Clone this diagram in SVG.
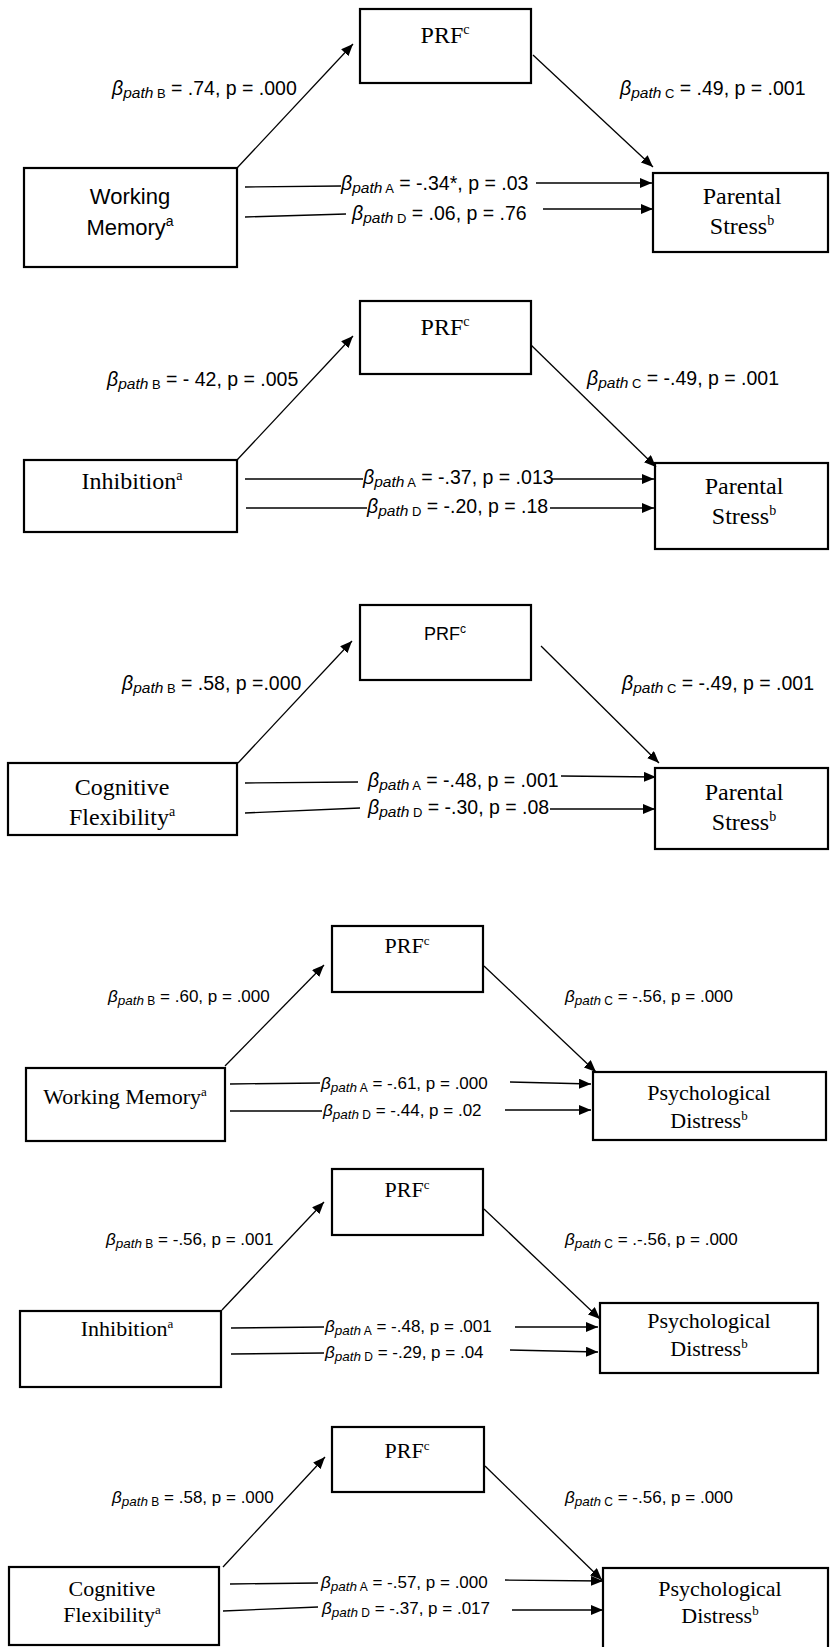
<svg xmlns="http://www.w3.org/2000/svg" width="830" height="1647" viewBox="0 0 830 1647">
<defs>
<marker id="ah" viewBox="0 0 12 10" refX="12" refY="5" markerWidth="12" markerHeight="10" markerUnits="userSpaceOnUse" orient="auto"><path d="M0,0 L12,5 L0,10 z" fill="#000"/></marker>
<style>
.box{fill:#fff;stroke:#000;stroke-width:2.2}
.ln{stroke:#000;stroke-width:1.3;fill:none}
.ar{stroke:#000;stroke-width:1.3;fill:none;marker-end:url(#ah)}
.serif{font-family:"Liberation Serif","Times New Roman",serif;fill:#000;text-anchor:middle}
.sans{font-family:"Liberation Sans",Arial,sans-serif;fill:#000;text-anchor:middle}
.lbl{font-family:"Liberation Sans",Arial,sans-serif;font-size:19.5px;fill:#000}
.lbl2{font-family:"Liberation Sans",Arial,sans-serif;font-size:17px;fill:#000}
.g{font-style:italic}
.lbl .s{font-style:italic;font-size:15.5px}
.lbl .c{font-size:13px}
.lbl2 .s{font-style:italic;font-size:13.5px}
.lbl2 .c{font-size:12px}
.f24{font-size:24px}
.f22{font-size:22px}
.f18{font-size:18px}
.sup{font-size:14px}
</style>
</defs>

<!-- Panel 1 -->
<g id="p1-prf"><rect class="box" x="360" y="9" width="171" height="74"/><text class="serif f24" x="445" y="43">PRF<tspan class="sup" dy="-9">c</tspan></text></g>
<g id="p1-wm"><rect class="box" x="24" y="168" width="213" height="99"/><text class="sans f22" x="130" y="204">Working</text><text class="sans f22" x="130" y="235">Memory<tspan class="sup" dy="-9">a</tspan></text></g>
<g id="p1-ps"><rect class="box" x="653" y="173" width="175" height="79"/><text class="serif f24" x="742" y="204">Parental</text><text class="serif f24" x="742" y="234">Stress<tspan class="sup" dy="-9">b</tspan></text></g>

<!-- Panel 2 -->
<g id="p2-prf"><rect class="box" x="360" y="301" width="171" height="73"/><text class="serif f24" x="445" y="335">PRF<tspan class="sup" dy="-9">c</tspan></text></g>
<g id="p2-inh"><rect class="box" x="24" y="460" width="213" height="72"/><text class="serif f24" x="132" y="489">Inhibition<tspan class="sup" dy="-9">a</tspan></text></g>
<g id="p2-ps"><rect class="box" x="655" y="463" width="173" height="86"/><text class="serif f24" x="744" y="494">Parental</text><text class="serif f24" x="744" y="524">Stress<tspan class="sup" dy="-9">b</tspan></text></g>

<!-- Panel 3 -->
<g id="p3-prf"><rect class="box" x="360" y="605" width="171" height="75"/><text class="sans f18" x="445" y="640">PRF<tspan class="sup" dy="-7" style="font-size:12px">c</tspan></text></g>
<g id="p3-cf"><rect class="box" x="8" y="763" width="229" height="72"/><text class="serif f24" x="122" y="795">Cognitive</text><text class="serif f24" x="122" y="825">Flexibility<tspan class="sup" dy="-9">a</tspan></text></g>
<g id="p3-ps"><rect class="box" x="655" y="768" width="173" height="81"/><text class="serif f24" x="744" y="800">Parental</text><text class="serif f24" x="744" y="830">Stress<tspan class="sup" dy="-9">b</tspan></text></g>

<!-- Panel 4 -->
<g id="p4-prf"><rect class="box" x="332" y="926" width="151" height="66"/><text class="serif f22" x="407" y="953">PRF<tspan class="sup" dy="-8" style="font-size:13px">c</tspan></text></g>
<g id="p4-wm"><rect class="box" x="26" y="1068" width="199" height="73"/><text class="serif f22" x="125" y="1104">Working Memory<tspan class="sup" dy="-8" style="font-size:13px">a</tspan></text></g>
<g id="p4-pd"><rect class="box" x="593" y="1072" width="233" height="68"/><text class="serif f22" x="709" y="1100">Psychological</text><text class="serif f22" x="709" y="1128">Distress<tspan class="sup" dy="-8" style="font-size:13px">b</tspan></text></g>

<!-- Panel 5 -->
<g id="p5-prf"><rect class="box" x="332" y="1169" width="151" height="66"/><text class="serif f22" x="407" y="1197">PRF<tspan class="sup" dy="-8" style="font-size:13px">c</tspan></text></g>
<g id="p5-inh"><rect class="box" x="20" y="1311" width="201" height="76"/><text class="serif f22" x="127" y="1336">Inhibition<tspan class="sup" dy="-8" style="font-size:13px">a</tspan></text></g>
<g id="p5-pd"><rect class="box" x="600" y="1303" width="218" height="70"/><text class="serif f22" x="709" y="1328">Psychological</text><text class="serif f22" x="709" y="1356">Distress<tspan class="sup" dy="-8" style="font-size:13px">b</tspan></text></g>

<!-- Panel 6 -->
<g id="p6-prf"><rect class="box" x="332" y="1427" width="152" height="65"/><text class="serif f22" x="407" y="1458">PRF<tspan class="sup" dy="-8" style="font-size:13px">c</tspan></text></g>
<g id="p6-cf"><rect class="box" x="9" y="1567" width="210" height="78"/><text class="serif f22" x="112" y="1596">Cognitive</text><text class="serif f22" x="112" y="1622">Flexibility<tspan class="sup" dy="-8" style="font-size:13px">a</tspan></text></g>
<g id="p6-pd"><rect class="box" x="603" y="1568" width="225" height="90"/><text class="serif f22" x="720" y="1596">Psychological</text><text class="serif f22" x="720" y="1623">Distress<tspan class="sup" dy="-8" style="font-size:13px">b</tspan></text></g>

<g id="connectors">
<!-- Panel 1 -->
<line class="ar" x1="237" y1="168" x2="353" y2="44"/>
<line class="ar" x1="533" y1="55" x2="653" y2="167"/>
<line class="ln" x1="245" y1="187" x2="341" y2="186"/>
<line class="ar" x1="536" y1="183" x2="652" y2="183"/>
<line class="ln" x1="245" y1="217" x2="346" y2="214"/>
<line class="ar" x1="543" y1="209" x2="653" y2="209"/>
<!-- Panel 2 -->
<line class="ar" x1="237" y1="460" x2="353" y2="336"/>
<line class="ar" x1="531" y1="345" x2="656" y2="467"/>
<line class="ln" x1="245" y1="479" x2="363" y2="479"/>
<line class="ar" x1="552" y1="479" x2="654" y2="479"/>
<line class="ln" x1="246" y1="508" x2="367" y2="508"/>
<line class="ar" x1="550" y1="508" x2="654" y2="508"/>
<!-- Panel 3 -->
<line class="ar" x1="238" y1="763" x2="352" y2="641"/>
<line class="ar" x1="541" y1="646" x2="659" y2="763"/>
<line class="ln" x1="245" y1="783" x2="358" y2="782"/>
<line class="ar" x1="561" y1="776" x2="656" y2="777"/>
<line class="ln" x1="245" y1="813" x2="360" y2="808"/>
<line class="ar" x1="550" y1="809" x2="655" y2="809"/>
<!-- Panel 4 -->
<line class="ar" x1="225" y1="1066" x2="324" y2="965"/>
<line class="ar" x1="484" y1="966" x2="596" y2="1072"/>
<line class="ln" x1="230" y1="1084" x2="320" y2="1083"/>
<line class="ar" x1="510" y1="1082" x2="591" y2="1084"/>
<line class="ln" x1="230" y1="1111" x2="322" y2="1111"/>
<line class="ar" x1="505" y1="1110" x2="591" y2="1110"/>
<!-- Panel 5 -->
<line class="ar" x1="222" y1="1310" x2="324" y2="1202"/>
<line class="ar" x1="484" y1="1209" x2="600" y2="1319"/>
<line class="ln" x1="231" y1="1328" x2="324" y2="1327"/>
<line class="ar" x1="515" y1="1327" x2="598" y2="1327"/>
<line class="ln" x1="231" y1="1354" x2="324" y2="1353"/>
<line class="ar" x1="510" y1="1350" x2="598" y2="1352"/>
<!-- Panel 6 -->
<line class="ar" x1="223" y1="1567" x2="325" y2="1457"/>
<line class="ar" x1="485" y1="1466" x2="602" y2="1580"/>
<line class="ln" x1="230" y1="1584" x2="318" y2="1583"/>
<line class="ar" x1="505" y1="1580" x2="603" y2="1581"/>
<line class="ln" x1="223" y1="1611" x2="318" y2="1607"/>
<line class="ar" x1="512" y1="1610" x2="603" y2="1610"/>

<!-- Labels panel 1 -->
<text class="lbl" x="112" y="95"><tspan class="g">β</tspan><tspan class="s" dy="3">path</tspan><tspan class="c"> B</tspan><tspan dy="-3"> = .74, p = .000</tspan></text>
<text class="lbl" x="620" y="95"><tspan class="g">β</tspan><tspan class="s" dy="3">path</tspan><tspan class="c"> C</tspan><tspan dy="-3"> = .49, p = .001</tspan></text>
<text class="lbl" x="341" y="190"><tspan class="g">β</tspan><tspan class="s" dy="3">path</tspan><tspan class="c"> A</tspan><tspan dy="-3"> = -.34*, p = .03</tspan></text>
<text class="lbl" x="352" y="220"><tspan class="g">β</tspan><tspan class="s" dy="3">path</tspan><tspan class="c"> D</tspan><tspan dy="-3"> = .06, p = .76</tspan></text>
<!-- Labels panel 2 -->
<text class="lbl" x="107" y="386"><tspan class="g">β</tspan><tspan class="s" dy="3">path</tspan><tspan class="c"> B</tspan><tspan dy="-3"> = - 42, p = .005</tspan></text>
<text class="lbl" x="587" y="385"><tspan class="g">β</tspan><tspan class="s" dy="3">path</tspan><tspan class="c"> C</tspan><tspan dy="-3"> = -.49, p = .001</tspan></text>
<text class="lbl" x="363" y="484"><tspan class="g">β</tspan><tspan class="s" dy="3">path</tspan><tspan class="c"> A</tspan><tspan dy="-3"> = -.37, p = .013</tspan></text>
<text class="lbl" x="367" y="513"><tspan class="g">β</tspan><tspan class="s" dy="3">path</tspan><tspan class="c"> D</tspan><tspan dy="-3"> = -.20, p = .18</tspan></text>
<!-- Labels panel 3 -->
<text class="lbl" x="122" y="690"><tspan class="g">β</tspan><tspan class="s" dy="3">path</tspan><tspan class="c"> B</tspan><tspan dy="-3"> = .58, p =.000</tspan></text>
<text class="lbl" x="622" y="690"><tspan class="g">β</tspan><tspan class="s" dy="3">path</tspan><tspan class="c"> C</tspan><tspan dy="-3"> = -.49, p = .001</tspan></text>
<text class="lbl" x="368" y="787"><tspan class="g">β</tspan><tspan class="s" dy="3">path</tspan><tspan class="c"> A</tspan><tspan dy="-3"> = -.48, p = .001</tspan></text>
<text class="lbl" x="368" y="814"><tspan class="g">β</tspan><tspan class="s" dy="3">path</tspan><tspan class="c"> D</tspan><tspan dy="-3"> = -.30, p = .08</tspan></text>
<!-- Labels panel 4 -->
<text class="lbl2" x="108" y="1002"><tspan class="g">β</tspan><tspan class="s" dy="3">path</tspan><tspan class="c"> B</tspan><tspan dy="-3"> = .60, p = .000</tspan></text>
<text class="lbl2" x="565" y="1002"><tspan class="g">β</tspan><tspan class="s" dy="3">path</tspan><tspan class="c"> C</tspan><tspan dy="-3"> = -.56, p = .000</tspan></text>
<text class="lbl2" x="321" y="1089"><tspan class="g">β</tspan><tspan class="s" dy="3">path</tspan><tspan class="c"> A</tspan><tspan dy="-3"> = -.61, p = .000</tspan></text>
<text class="lbl2" x="323" y="1116"><tspan class="g">β</tspan><tspan class="s" dy="3">path</tspan><tspan class="c"> D</tspan><tspan dy="-3"> = -.44, p = .02</tspan></text>
<!-- Labels panel 5 -->
<text class="lbl2" x="106" y="1245"><tspan class="g">β</tspan><tspan class="s" dy="3">path</tspan><tspan class="c"> B</tspan><tspan dy="-3"> = -.56, p = .001</tspan></text>
<text class="lbl2" x="565" y="1245"><tspan class="g">β</tspan><tspan class="s" dy="3">path</tspan><tspan class="c"> C</tspan><tspan dy="-3"> = .-.56, p = .000</tspan></text>
<text class="lbl2" x="325" y="1332"><tspan class="g">β</tspan><tspan class="s" dy="3">path</tspan><tspan class="c"> A</tspan><tspan dy="-3"> = -.48, p = .001</tspan></text>
<text class="lbl2" x="325" y="1358"><tspan class="g">β</tspan><tspan class="s" dy="3">path</tspan><tspan class="c"> D</tspan><tspan dy="-3"> = -.29, p = .04</tspan></text>
<!-- Labels panel 6 -->
<text class="lbl2" x="112" y="1503"><tspan class="g">β</tspan><tspan class="s" dy="3">path</tspan><tspan class="c"> B</tspan><tspan dy="-3"> = .58, p = .000</tspan></text>
<text class="lbl2" x="565" y="1503"><tspan class="g">β</tspan><tspan class="s" dy="3">path</tspan><tspan class="c"> C</tspan><tspan dy="-3"> = -.56, p = .000</tspan></text>
<text class="lbl2" x="321" y="1588"><tspan class="g">β</tspan><tspan class="s" dy="3">path</tspan><tspan class="c"> A</tspan><tspan dy="-3"> = -.57, p = .000</tspan></text>
<text class="lbl2" x="322" y="1614"><tspan class="g">β</tspan><tspan class="s" dy="3">path</tspan><tspan class="c"> D</tspan><tspan dy="-3"> = -.37, p = .017</tspan></text>
</g>
</svg>
